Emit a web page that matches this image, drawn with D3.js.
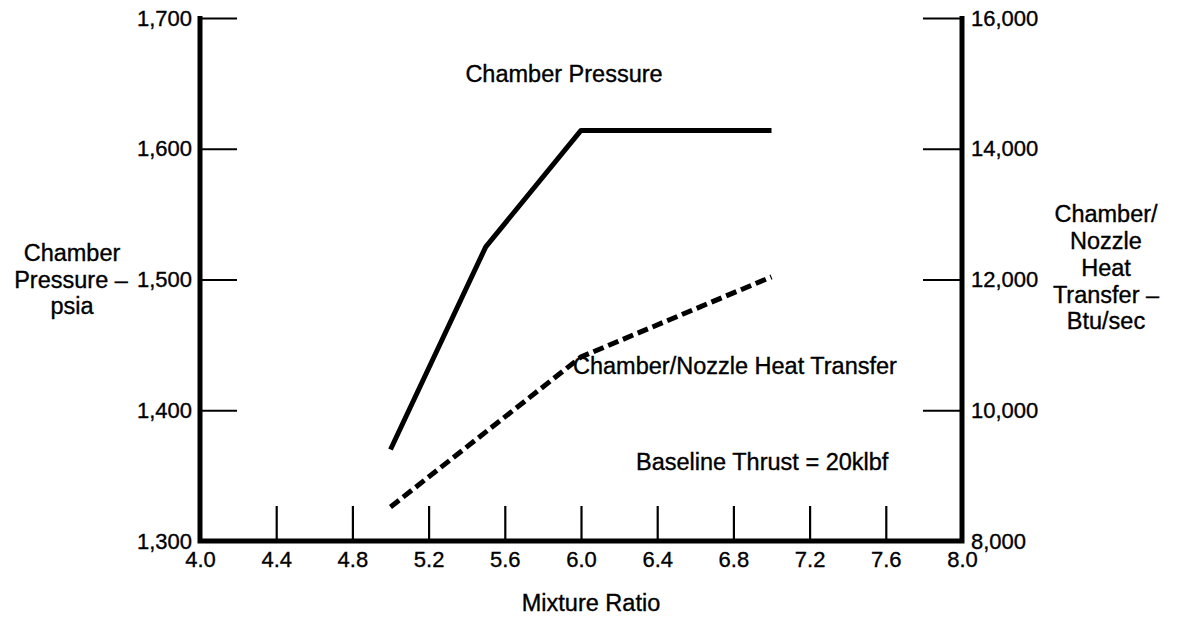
<!DOCTYPE html>
<html>
<head>
<meta charset="utf-8">
<script src="https://cdn.jsdelivr.net/npm/d3@7"></script>
<style>
  html, body { margin: 0; padding: 0; background: #fff; }
  svg { display: block; }
  text { font-family: "Liberation Sans", Arial, Helvetica, sans-serif; fill: #000; stroke: #000; stroke-width: 0.35px; }
</style>
</head>
<body>
<svg id="chart" width="1179" height="617"></svg>
<script>
// Mixture ratio sample points
const mixtureRatio = [5.0, 5.5, 6.0, 7.0];
// Chamber pressure, psia (left axis)
const chamberPressure = [1370, 1525, 1614, 1614];
// Heat transfer points, Btu/sec (right axis)
const heatRatio = [5.0, 6.0, 7.0];
const heatTransfer = [8520, 10815, 12040];

// Axis ticks
const xTicks = [4.0, 4.4, 4.8, 5.2, 5.6, 6.0, 6.4, 6.8, 7.2, 7.6, 8.0];
const leftTicks = [1300, 1400, 1500, 1600, 1700];
const rightTicks = [8000, 10000, 12000, 14000, 16000];

const svg = d3.select("#chart");
const plotLeft = 200, plotRight = 962, plotTop = 18, plotBottom = 541;

const x = d3.scaleLinear().domain([4.0, 8.0]).range([plotLeft, plotRight]);
const yL = d3.scaleLinear().domain([1300, 1700]).range([plotBottom, plotTop]);
const yR = d3.scaleLinear().domain([8000, 16000]).range([plotBottom, plotTop]);

const fmtComma = d3.format(",");
const tickFont = 22;
const labelFont = 23.5;

// Bottom axis: ticks pointing up into the plot
const gx = svg.append("g")
  .attr("transform", `translate(0,${plotBottom})`)
  .call(d3.axisBottom(x).tickValues(xTicks).tickFormat(d3.format(".1f"))
    .tickSizeInner(-35).tickSizeOuter(0).tickPadding(10));

// Left axis: ticks pointing right
const gl = svg.append("g")
  .attr("transform", `translate(${plotLeft},0)`)
  .call(d3.axisLeft(yL).tickValues(leftTicks).tickFormat(fmtComma)
    .tickSizeInner(-37).tickSizeOuter(0).tickPadding(8));

// Right axis: ticks pointing left
const gr = svg.append("g")
  .attr("transform", `translate(${plotRight},0)`)
  .call(d3.axisRight(yR).tickValues(rightTicks).tickFormat(fmtComma)
    .tickSizeInner(-39).tickSizeOuter(0).tickPadding(9));

[gx, gl, gr].forEach(g => {
  g.select(".domain").remove();
  g.selectAll(".tick line").attr("stroke", "#000").attr("stroke-width", 2.2);
  g.selectAll(".tick text")
    .attr("fill", "#000")
    .style("font-family", '"Liberation Sans", Arial, Helvetica, sans-serif')
    .style("font-size", tickFont + "px");
});

// Heavy frame: left, bottom, right
svg.append("path")
  .attr("d", `M${plotLeft},${plotTop - 2}V${plotBottom}H${plotRight}V${plotTop - 2}`)
  .attr("fill", "none")
  .attr("stroke", "#000")
  .attr("stroke-width", 5)
  .attr("stroke-linejoin", "miter");

// Chamber pressure curve
const linePc = d3.line()
  .x((d, i) => x(mixtureRatio[i]))
  .y(d => yL(d));
svg.append("path")
  .datum(chamberPressure)
  .attr("d", linePc)
  .attr("fill", "none")
  .attr("stroke", "#000")
  .attr("stroke-width", 5)
  .attr("stroke-linejoin", "round");

// Heat transfer curve
const lineQ = d3.line()
  .x((d, i) => x(heatRatio[i]))
  .y(d => yR(d));
svg.append("path")
  .datum(heatTransfer)
  .attr("d", lineQ)
  .attr("fill", "none")
  .attr("stroke", "#000")
  .attr("stroke-width", 5)
  .attr("stroke-dasharray", "11,5");

// Curve labels and note
svg.append("text").attr("x", 564).attr("y", 76).attr("text-anchor", "middle")
  .attr("dominant-baseline", "middle").style("font-size", labelFont + "px").text("Chamber Pressure");
svg.append("text").attr("x", 573).attr("y", 368)
  .attr("dominant-baseline", "middle").style("font-size", labelFont + "px").text("Chamber/Nozzle Heat Transfer");
svg.append("text").attr("x", 636).attr("y", 464)
  .attr("dominant-baseline", "middle").style("font-size", labelFont + "px").text("Baseline Thrust = 20klbf");

// Axis titles
svg.append("text").attr("x", 591).attr("y", 605).attr("text-anchor", "middle")
  .attr("dominant-baseline", "middle").style("font-size", labelFont + "px").text("Mixture Ratio");

const leftTitle = ["Chamber", "Pressure \u2013", "psia"];
svg.append("g").selectAll("text").data(leftTitle).join("text")
  .attr("x", (d, i) => i === 1 ? 71 : 72).attr("y", (d, i) => 255 + i * 26.5)
  .attr("text-anchor", "middle").attr("dominant-baseline", "middle")
  .style("font-size", labelFont + "px").text(d => d);

const rightTitle = ["Chamber/", "Nozzle", "Heat", "Transfer \u2013", "Btu/sec"];
svg.append("g").selectAll("text").data(rightTitle).join("text")
  .attr("x", 1106).attr("y", (d, i) => 216 + i * 26.8)
  .attr("text-anchor", "middle").attr("dominant-baseline", "middle")
  .style("font-size", labelFont + "px").text(d => d);
</script>
</body>
</html>
